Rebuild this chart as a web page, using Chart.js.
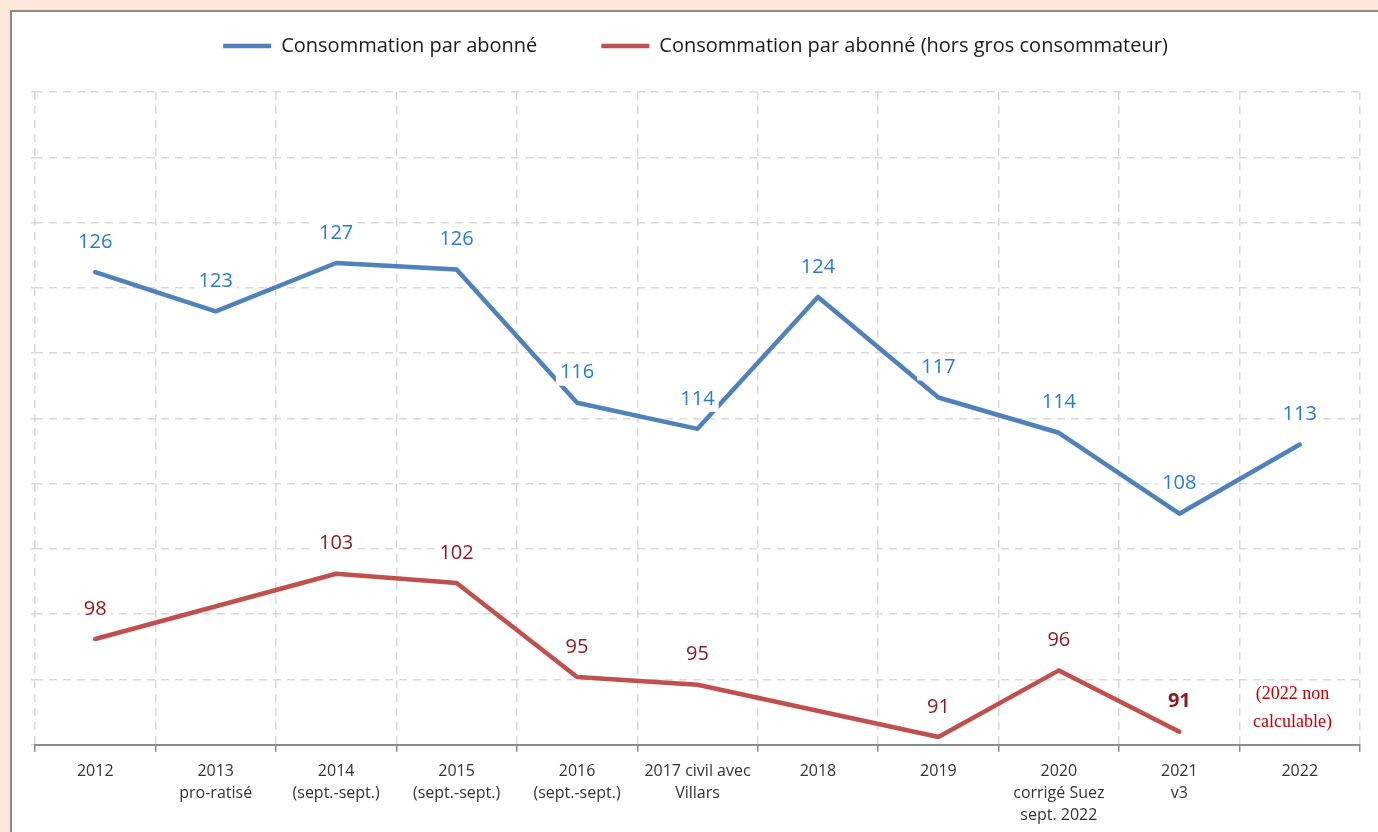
<!DOCTYPE html>
<html>
<head>
<meta charset="utf-8">
<title>Consommation par abonné</title>
<script src="https://cdn.jsdelivr.net/npm/chart.js"></script>
<style>
    html, body { margin: 0; padding: 0; background: #fce8da; overflow: hidden; }
    .frame {
        position: absolute; left: 10px; top: 10px;
        width: 1380px; height: 830px;
        background: #fff;
        border-left: 2px solid #8a8a8a; border-top: 2px solid #8a8a8a;
    }
    .frame canvas { position: absolute; left: 0; top: 0; }
    .note {
        position: absolute; left: 1253px; top: 679px;
        font-family: "Liberation Serif", serif; font-size: 18px; line-height: 28px;
        color: #c00000; text-align: center;
    }
</style>
</head>
<body>
<div class="frame">
    <canvas id="chart" width="1366" height="820"></canvas>
</div>
<div class="note">(2022 non<br>calculable)</div>

<script>
    // catégories (une ligne par élément)
    const years = [
        ['2012'],
        ['2013', 'pro-ratisé'],
        ['2014', '(sept.-sept.)'],
        ['2015', '(sept.-sept.)'],
        ['2016', '(sept.-sept.)'],
        ['2017 civil avec', 'Villars'],
        ['2018'],
        ['2019'],
        ['2020', 'corrigé Suez', 'sept. 2022'],
        ['2021', 'v3'],
        ['2022']
    ];
    const perSubscriber = [126.2, 123.2, 126.9, 126.4, 116.2, 114.2, 124.3, 116.6, 113.9, 107.7, 113.0];
    const perSubscriberExclBig = [98.1, null, 103.1, 102.4, 95.2, 94.6, null, 90.6, 95.7, 91.0, null];
    const boldLabelIndex = 9; // 2021 en gras (série rouge)

    const yMin = 90, yMax = 140, yStep = 5;

    // étiquettes de données avec fond blanc
    const valueLabels = {
        id: 'valueLabels',
        afterDatasetsDraw(chart) {
            const ctx = chart.ctx;
            chart.data.datasets.forEach((ds, di) => {
                const meta = chart.getDatasetMeta(di);
                meta.data.forEach((pt, i) => {
                    const v = ds.data[i];
                    if (v === null || v === undefined) return;
                    const txt = String(Math.round(v));
                    const bold = di === 1 && i === boldLabelIndex;
                    ctx.save();
                    ctx.font = (bold ? 'bold ' : '') + '20px "Open Sans", sans-serif';
                    ctx.textAlign = 'center';
                    ctx.textBaseline = 'middle';
                    const w = ctx.measureText(txt).width;
                    const x = pt.x, y = pt.y - 30;
                    ctx.fillStyle = '#fff';
                    ctx.fillRect(x - w / 2 - 4, y - 13, w + 8, 26);
                    ctx.fillStyle = ds.labelColor;
                    ctx.fillText(txt, x, y);
                    ctx.restore();
                });
            });
        }
    };

    const gridStyle = {
        color: '#d9d9d9',
        lineWidth: 1.5,
        tickBorderDash: [],
        tickWidth: 1.5
    };

    new Chart(document.getElementById('chart').getContext('2d'), {
        type: 'line',
        data: {
            labels: years,
            datasets: [
                {
                    label: 'Consommation par abonné',
                    data: perSubscriber,
                    borderColor: '#4f81bd',
                    backgroundColor: '#4f81bd',
                    labelColor: '#2a7bd2',
                    borderWidth: 4.5,
                    borderJoinStyle: 'round',
                    borderCapStyle: 'round',
                    pointRadius: 0,
                    tension: 0
                },
                {
                    label: 'Consommation par abonné (hors gros consommateur)',
                    data: perSubscriberExclBig,
                    borderColor: '#c0504d',
                    backgroundColor: '#c0504d',
                    labelColor: '#8b1a1a',
                    borderWidth: 4.5,
                    borderJoinStyle: 'round',
                    borderCapStyle: 'round',
                    pointRadius: 0,
                    spanGaps: true,
                    tension: 0
                }
            ]
        },
        options: {
            responsive: false,
            animation: false,
            layout: { padding: { left: 19, right: 18, top: -40, bottom: -3 } },
            plugins: {
                tooltip: { enabled: false },
                legend: {
                    position: 'top',
                    labels: {
                        usePointStyle: true,
                        pointStyle: 'line',
                        pointStyleWidth: 48,
                        padding: 64,
                        color: '#1a1a1a',
                        font: { family: '"Open Sans", sans-serif', size: 20 }
                    }
                }
            },
            scales: {
                x: {
                    offset: true,
                    grid: Object.assign({ offset: true, tickLength: 7, tickColor: '#8a8a8a' }, gridStyle),
                    border: { display: true, color: '#8a8a8a', width: 2, dash: [8, 6] },
                    ticks: {
                        color: '#333',
                        maxRotation: 0,
                        autoSkip: false,
                        padding: 8,
                        font: { family: '"Open Sans", sans-serif', size: 16, lineHeight: 1.4 }
                    }
                },
                // axe vide qui sert d'espace entre la légende et le graphique
                spacer: {
                    type: 'category',
                    position: 'top',
                    grid: { display: false },
                    border: { display: false },
                    ticks: { display: false },
                    afterFit(scale) { scale.height = 26; }
                },
                y: {
                    min: yMin,
                    max: yMax,
                    grid: Object.assign({ tickLength: 4, tickColor: '#d9d9d9' }, gridStyle),
                    border: { display: false, dash: [8, 6] },
                    ticks: { display: false, stepSize: yStep }
                }
            }
        },
        plugins: [valueLabels]
    });
</script>
</body>
</html>
